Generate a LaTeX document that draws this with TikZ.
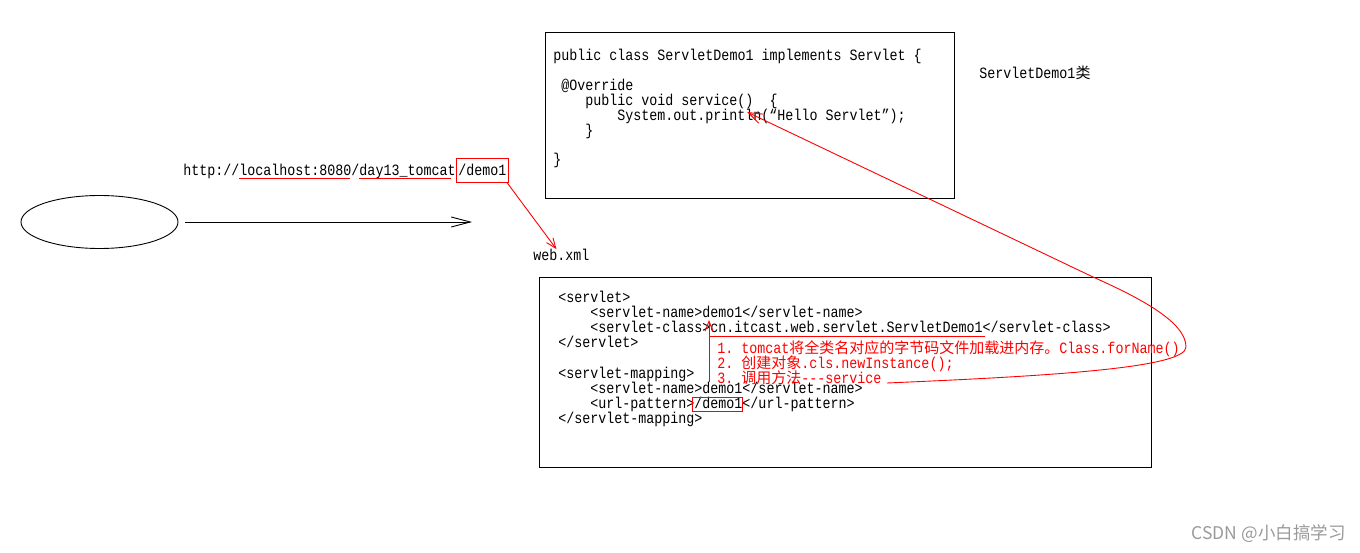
\documentclass[tikz,border=0pt]{standalone}
\usepackage{fontspec}
\setmonofont[FakeStretch=0.85]{Liberation Mono}
\newfontfamily\cjkfont{Noto Sans CJK SC}
\usetikzlibrary{arrows.meta,positioning,calc,shapes.geometric}
\definecolor{NoteRed}{HTML}{FF0000}
\definecolor{MarkGray}{HTML}{9A9A9A}
\newcommand{\zh}[1]{{\cjkfont\fontsize{15pt}{15pt}\selectfont #1}}
\tikzset{
  code/.style={font=\ttfamily\fontsize{15.69pt}{15pt}\selectfont,anchor=base west,inner sep=0pt},
  note/.style={code,text=NoteRed},
  redbox/.style={draw=NoteRed,line width=0.9pt},
  barb/.style={-{Straight Barb[length=19pt,width=10pt]}},
  redtip/.style={NoteRed,-{Straight Barb[length=10pt,width=8pt]}},
}

\begin{document}
\begin{tikzpicture}[x=1pt,y=1pt,line width=0.9pt]
 \useasboundingbox (0,0) rectangle (1360,-553);
 % browser and request
 \node[draw,ellipse,minimum width=157pt,minimum height=53pt] (client) at (99.5,-222) {};
 \coordinate (srv) at (472,-222);
 \draw[barb] ([xshift=7pt]client.east) -- (srv);
 \node[code] (url) at (183,-176) {http://localhost:8080/day13\_tomcat};
 \node[code,redbox,inner xsep=2pt,inner ysep=2pt,text height=16pt,text depth=4pt] (urlreq) at (url.base east) {/demo1};
 \draw[NoteRed] ($(url.base west)+(56,-2)$) -- +(111,0);
 \draw[NoteRed] ($(url.base west)+(176,-2)$) -- +(92,0);
 \node[code] (webxml) at (533,-261) {web.xml};
 \draw[redtip] ([xshift=-2pt]urlreq.south east) -- ([xshift=-5pt]webxml.north);
 % ServletDemo1 class
 \node[draw,minimum width=409pt,minimum height=166pt] (clsbox) at (749.5,-115) {};
 \node[code] (c1) at (553,-61) {public class ServletDemo1 implements Servlet \{};
 \node[code] (c2) at (561,-91) {@Override};
 \node[code] (c3) at (585,-106) {public void service()~~\{};
 \node[code] (c4) at (617,-121) {System.out.println(“Hello Servlet”);};
 \node[code] (c5) at (585,-136) {\}};
 \node[code] (c6) at (553,-165) {\}};
 \node[code] (clsname) at (979,-79) {ServletDemo1\zh{类}};
 % web.xml contents
 \node[draw,minimum width=612pt,minimum height=190pt] (xmlbox) at (845,-372) {};
 \node[code] (x1) at (558,-303) {<servlet>};
 \node[code] (x2) at (590,-318) {<servlet-name>demo1</servlet-name>};
 \node[code] (x3) at (590,-333) {<servlet-class>cn.itcast.web.servlet.ServletDemo1</servlet-class>};
 \node[code] (x4) at (558,-348) {</servlet>};
 \node[code] (x5) at (558,-378) {<servlet-mapping>};
 \node[code] (x6) at (590,-393) {<servlet-name>demo1</servlet-name>};
 \node[code] (x7) at (590,-408) {<url-pattern>/demo1</url-pattern>};
 \node[code] (x8) at (558,-423) {</servlet-mapping>};
 \draw[redbox] ($(x7.base west)+(102,11)$) rectangle ($(x7.base west)+(152,-3)$);
 \draw[NoteRed] ($(x3.base west)+(120,-3)$) -- +(275,0);
 % loading steps
 \node[note] (r1) at (717,-353) {1. tomcat\zh{将全类名对应的字节码文件加载进内存。}Class.forName()};
 \node[note] (r2) at (717,-368) {2. \zh{创建对象}.cls.newInstance();};
 \node[note] (r3) at (717,-383) {3. \zh{调用方法}-{}-{}-service};
 \coordinate (mapdemo) at (709,-382);
 \coordinate (namedemo) at (709,-320);
 \draw[redtip] (mapdemo) -- (namedemo);
 \coordinate (printcall) at (747,-112);
 \draw[NoteRed,-{Straight Barb[length=14pt,width=10pt]}] ([xshift=5pt]r3.base east)
   .. controls (1050,-376) and (1186,-368) .. (1186,-347)
   .. controls (1186,-322) and (1140,-298) .. (1093,-277) -- (printcall);
 \node[font=\cjkfont\fontsize{17.5pt}{17.5pt}\selectfont,text=MarkGray,anchor=east,inner sep=0pt] (mark) at (1346,-534) {CSDN @小白搞学习};
\end{tikzpicture}
\end{document}
